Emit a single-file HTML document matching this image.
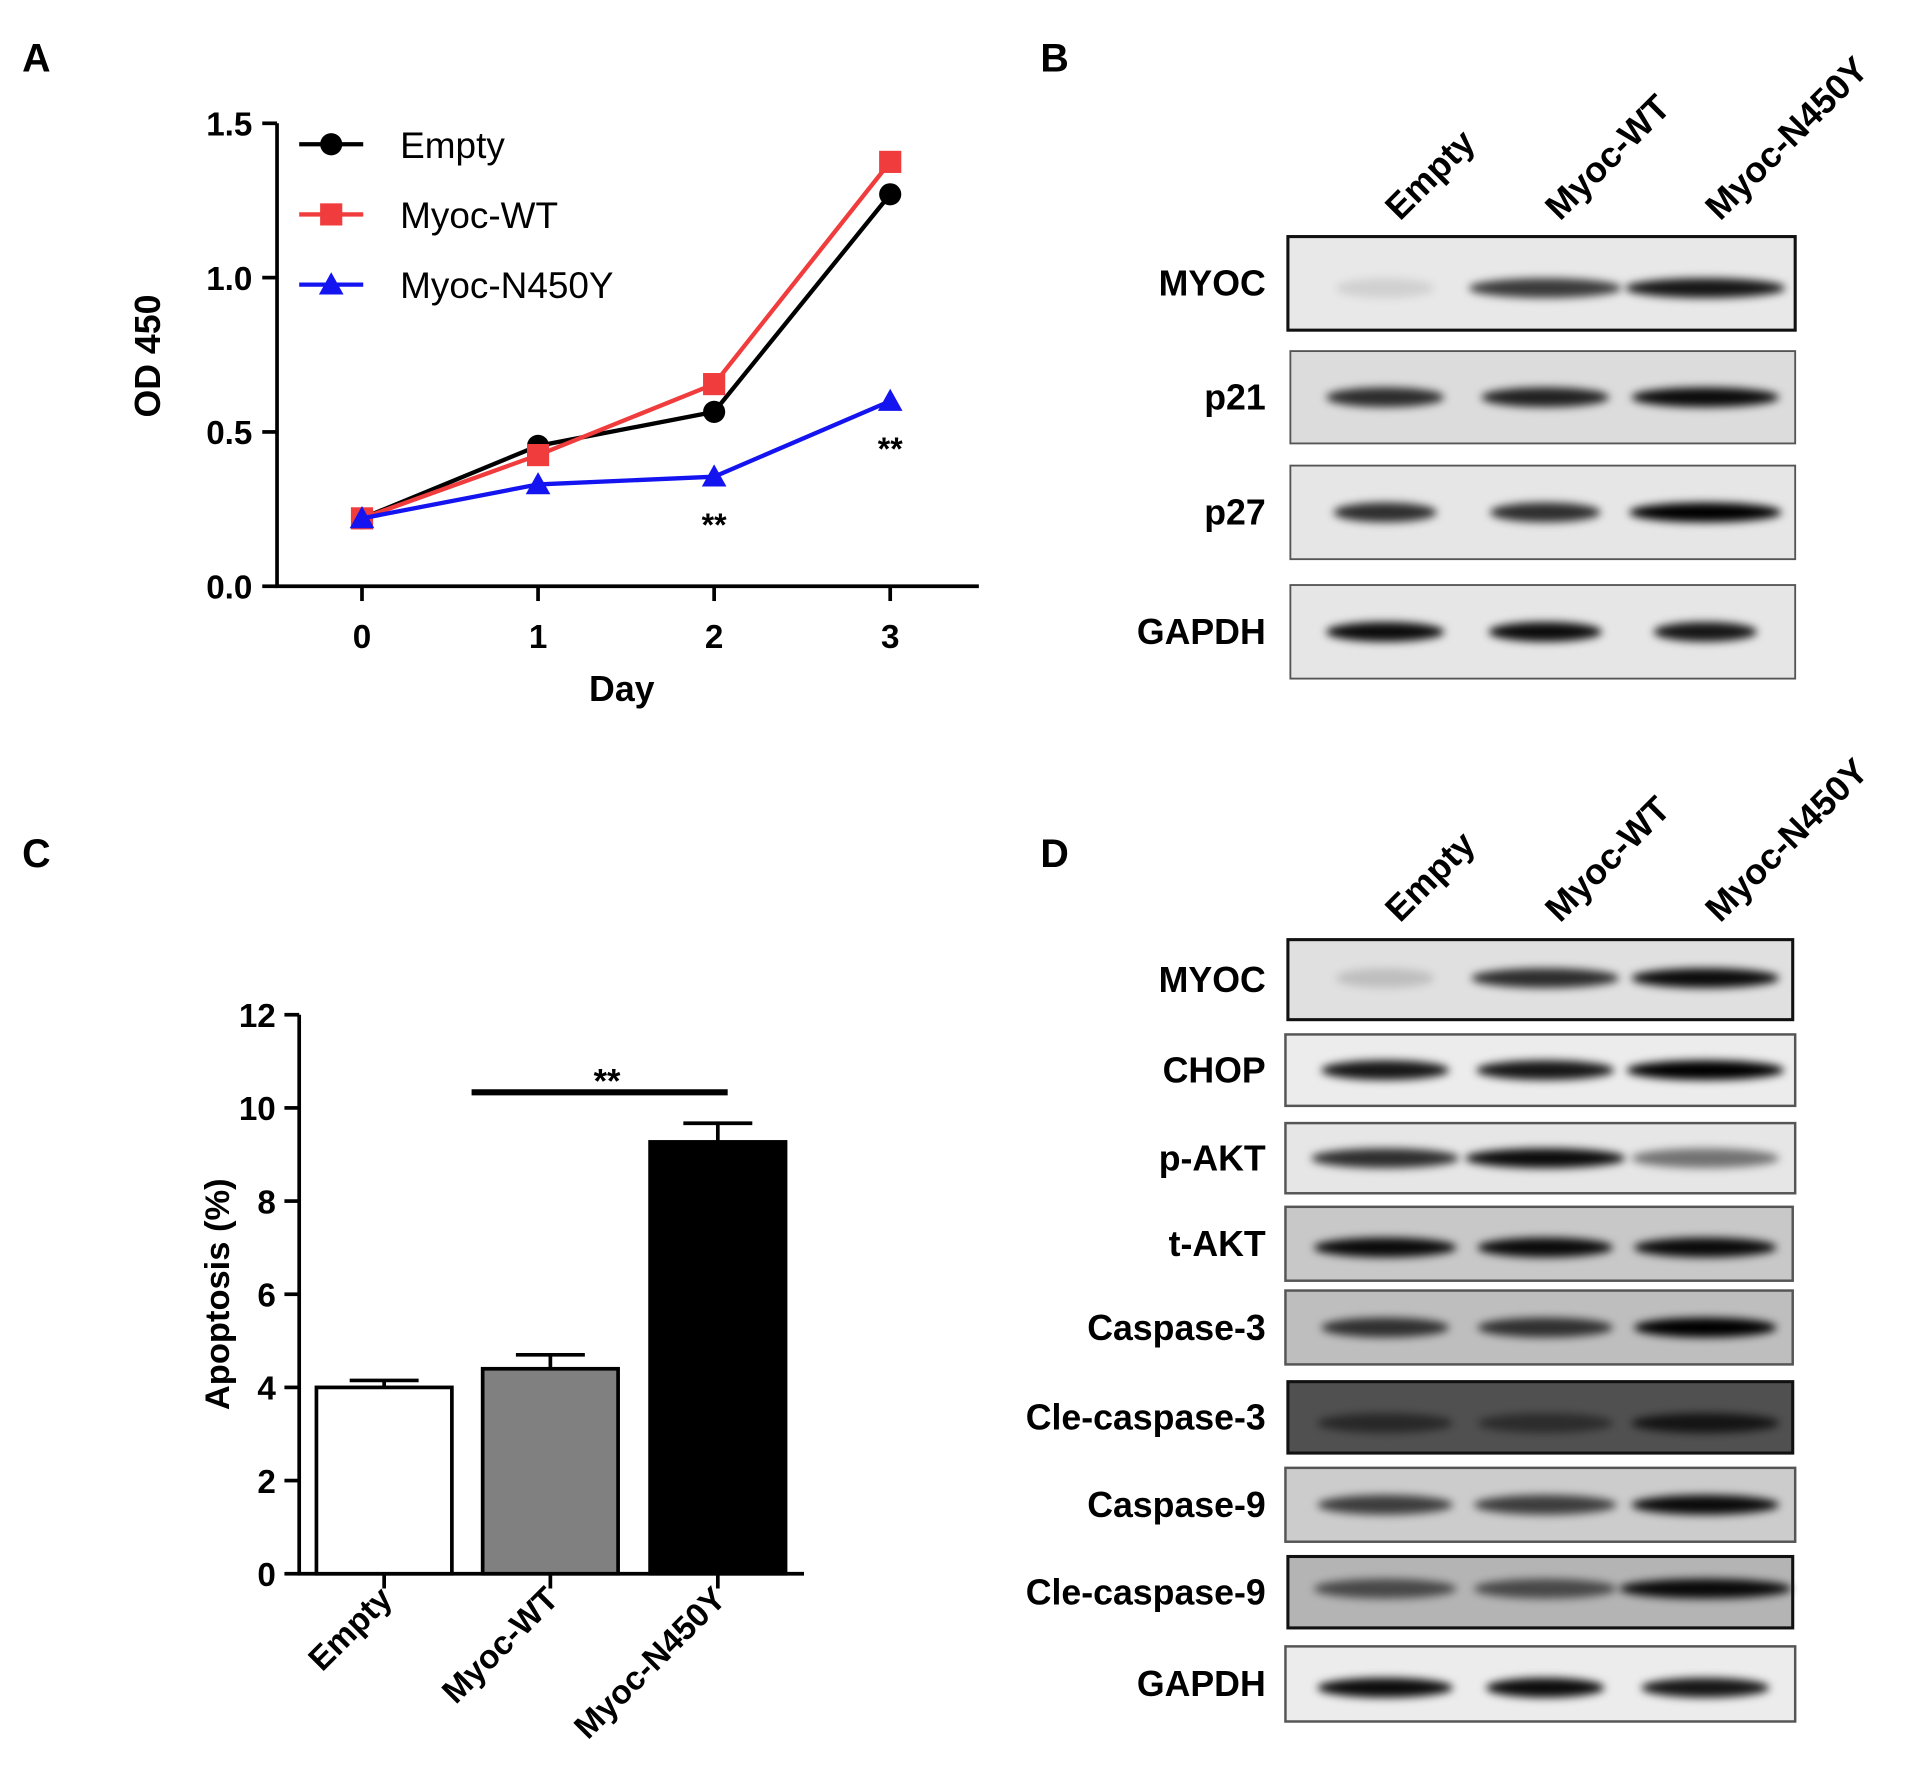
<!DOCTYPE html>
<html><head><meta charset="utf-8"><style>
html,body{margin:0;padding:0;background:#fff}
svg{display:block}
text{font-family:"Liberation Sans",Arial,sans-serif;font-weight:bold}
</style></head><body>
<svg id="fig" width="1906" height="1782" viewBox="0 0 1548 1447" xmlns="http://www.w3.org/2000/svg">
<defs><filter id="blur" x="-20%" y="-100%" width="140%" height="300%"><feGaussianBlur stdDeviation="3.5"/></filter></defs>
<text x="18" y="58" font-size="32">A</text>
<text x="845" y="58" font-size="32">B</text>
<text x="18" y="704" font-size="32">C</text>
<text x="845" y="704" font-size="32">D</text>
<g id="chartA"></g>
<g id="chartC"></g>
<g id="blots"></g>
</svg>
<script>
const days=[0,1,2,3];
const yTicksA=[0.0,0.5,1.0,1.5];
const emptyVals=[0.22,0.455,0.565,1.27];
const wtVals=[0.22,0.425,0.655,1.375];
const mutVals=[0.22,0.33,0.355,0.60];
const seriesNames=["Empty","Myoc-WT","Myoc-N450Y"];
const groupsC=["Empty","Myoc-WT","Myoc-N450Y"];
const apopVals=[4.0,4.4,9.27];
const apopErr=[0.15,0.3,0.4];
const yTicksC=[0,2,4,6,8,10,12];

const NS="http://www.w3.org/2000/svg";
function mk(tag,attrs,parent,txt){const e=document.createElementNS(NS,tag);for(const k in attrs)e.setAttribute(k,attrs[k]);if(txt!==undefined)e.textContent=txt;parent.appendChild(e);return e;}

// Panel A
const A=document.getElementById('chartA');
const xA=d=>294+d*143, yA=v=>476-v*(376/1.5);
let e;
e=mk('line',{x1:225,y1:100,x2:225,y2:477,stroke:'#000','stroke-width':3},A);


e=mk('line',{x1:224,y1:476,x2:795,y2:476,stroke:'#000','stroke-width':3},A);


yTicksA.forEach(t=>{mk('line',{x1:213,y1:yA(t),x2:225,y2:yA(t),stroke:'#000','stroke-width':3},A);
e=mk('text',{x:205,y:yA(t)+10,'font-size':27,'text-anchor':'end'},A,t.toFixed(1));

});
days.forEach(d=>{mk('line',{x1:xA(d),y1:476,x2:xA(d),y2:488,stroke:'#000','stroke-width':3},A);
e=mk('text',{x:xA(d),y:526,'font-size':27,'text-anchor':'middle'},A,String(d));

});
e=mk('text',{x:505,y:569,'font-size':29,'text-anchor':'middle'},A,'Day');


e=mk('text',{x:0,y:0,'font-size':29,'text-anchor':'middle',transform:'translate(130,289) rotate(-90)'},A,'OD 450');


const cols=['#000','#f03c3c','#1414f0'];
function marker(kind,x,y,c,p){
 if(kind===0)return mk('circle',{cx:x,cy:y,r:9,fill:c},p);
 if(kind===1)return mk('rect',{x:x-9,y:y-9,width:18,height:18,fill:c},p);
 return mk('polygon',{points:`${x},${y-10} ${x+10},${y+8} ${x-10},${y+8}`,fill:c},p);}
[emptyVals,wtVals,mutVals].forEach((vals,i)=>{
 const g=mk('g',{},A);
 
 
 mk('polyline',{points:vals.map((v,j)=>xA(days[j])+','+yA(v)).join(' '),fill:'none',stroke:cols[i],'stroke-width':3.5},g);
 vals.forEach((v,j)=>{const m=marker(i,xA(days[j]),yA(v),cols[i],g);
 
 });
 const ly=117+i*57;
 const lg=mk('g',{},A);
 
 
 mk('line',{x1:243,y1:ly,x2:295,y2:ly,stroke:cols[i],'stroke-width':3.5},lg);
 marker(i,269,ly,cols[i],lg);
 mk('text',{x:325,y:ly+11,'font-size':30,'font-weight':'normal',style:'font-weight:normal'},lg,seriesNames[i]);
});
e=mk('text',{x:xA(2),y:yA(mutVals[2])+48,'font-size':26,'text-anchor':'middle'},A,'**');


e=mk('text',{x:xA(3),y:yA(mutVals[3])+48,'font-size':26,'text-anchor':'middle'},A,'**');



// Panel C
const C=document.getElementById('chartC');
const yC=v=>1278-v*(454/12);
const xC=[312,447,583];
e=mk('line',{x1:243,y1:824,x2:243,y2:1279,stroke:'#000','stroke-width':3},C);


e=mk('line',{x1:242,y1:1278,x2:653,y2:1278,stroke:'#000','stroke-width':3},C);


yTicksC.forEach(t=>{mk('line',{x1:231,y1:yC(t),x2:243,y2:yC(t),stroke:'#000','stroke-width':3},C);
e=mk('text',{x:224,y:yC(t)+10,'font-size':27,'text-anchor':'end'},C,String(t));

});
const fills=['#fff','#808080','#000'];
groupsC.forEach((g,i)=>{
 const top=yC(apopVals[i]+apopErr[i]);
 e=mk('line',{x1:xC[i],y1:top,x2:xC[i],y2:yC(apopVals[i]),stroke:'#000','stroke-width':3},C);
 
 
 mk('line',{x1:xC[i]-28,y1:top,x2:xC[i]+28,y2:top,stroke:'#000','stroke-width':3},C);
 e=mk('rect',{x:xC[i]-55,y:yC(apopVals[i]),width:110,height:1278-yC(apopVals[i]),fill:fills[i],stroke:'#000','stroke-width':3},C);
 
 
 mk('line',{x1:xC[i],y1:1278,x2:xC[i],y2:1290,stroke:'#000','stroke-width':3},C);
 e=mk('text',{x:0,y:0,'font-size':27,'text-anchor':'end',transform:`translate(${xC[i]+8},${1300}) rotate(-45)`},C,g);
 
 
});
e=mk('line',{x1:383,y1:887,x2:591,y2:887,stroke:'#000','stroke-width':5},C);


e=mk('text',{x:493,y:887,'font-size':28,'text-anchor':'middle'},C,'**');


e=mk('text',{x:0,y:0,'font-size':28,'text-anchor':'middle',transform:'translate(186,1051) rotate(-90)'},C,'Apoptosis (%)');



// Blots
const B=document.getElementById('blots');
const lanes=[1125,1255,1385];
const laneNames=["Empty","Myoc-WT","Myoc-N450Y"];
[[180],[750]].forEach(([hy])=>{laneNames.forEach((n,i)=>{
 e=mk('text',{x:0,y:0,'font-size':29,transform:`translate(${lanes[i]+12},${hy}) rotate(-45)`},B,n);
 
 });});
// label, x1,y1,x2,y2, bg, border, band intensities, band widths
const blotRows=[
 ['MYOC',1046,192,1458,268,'#e8e8e8',2.5,[0.1,0.75,0.9],[40,62,65],0.55],
 ['p21',1048,285,1458,360,'#dcdcdc',1.5,[0.8,0.85,0.95],[48,52,60],0.5],
 ['p27',1048,378,1458,454,'#e6e6e6',1.5,[0.8,0.8,1.0],[42,45,62],0.5],
 ['GAPDH',1048,475,1458,551,'#e6e6e6',1.5,[0.95,0.95,0.9],[48,46,42],0.5],
 ['MYOC',1046,763,1456,828,'#e0e0e0',2.5,[0.15,0.8,0.95],[40,60,60],0.48],
 ['CHOP',1044,840,1458,898,'#ececec',2,[0.9,0.9,1.0],[52,56,64],0.5],
 ['p-AKT',1044,912,1458,969,'#e6e6e6',2,[0.8,0.95,0.5],[60,65,60],0.5],
 ['t-AKT',1044,980,1456,1040,'#c8c8c8',2,[0.95,0.95,0.95],[58,55,58],0.55],
 ['Caspase-3',1044,1048,1456,1108,'#bebebe',2,[0.75,0.75,1.0],[52,55,58],0.5],
 ['Cle-caspase-3',1046,1122,1456,1180,'#505050',2.5,[0.5,0.45,0.75],[55,55,60],0.58],
 ['Caspase-9',1044,1192,1458,1252,'#cccccc',2,[0.7,0.7,0.95],[55,58,60],0.5],
 ['Cle-caspase-9',1046,1264,1456,1322,'#b4b4b4',2.5,[0.6,0.6,0.95],[58,58,70],0.45],
 ['GAPDH',1044,1337,1458,1398,'#ececec',2,[0.95,0.95,0.9],[55,48,52],0.55]
];
blotRows.forEach(r=>{
 const [lab,x1,y1,x2,y2,bg,sw,ints,wids,fr]=r;
 const g=mk('g',{},B);
 
 
 mk('rect',{x:x1,y:y1,width:x2-x1,height:y2-y1,fill:bg},g);
 const by=y1+(y2-y1)*fr;
 ints.forEach((v,i)=>{const b=mk('ellipse',{cx:lanes[i],cy:by,rx:wids[i],ry:8,fill:'#000','fill-opacity':v,filter:'url(#blur)'},g);
 
 });
 mk('rect',{x:x1,y:y1,width:x2-x1,height:y2-y1,fill:'none',stroke:sw>2?'#111':'#555','stroke-width':sw},g);
 const t=mk('text',{x:1028,y:(y1+y2)/2+10,'font-size':29,'text-anchor':'end'},g,lab);
 
 
});
</script>
</body></html>
